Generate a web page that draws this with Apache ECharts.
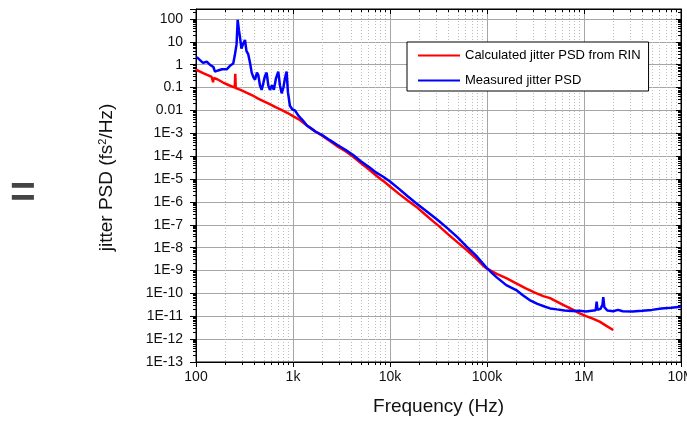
<!DOCTYPE html>
<html>
<head>
<meta charset="utf-8">
<script src="https://cdn.jsdelivr.net/npm/echarts@6/dist/echarts.min.js"></script>
<style>
  html, body { margin: 0; padding: 0; background: #fff; }
  #chart { width: 687px; height: 422px; }
</style>
</head>
<body>
<div id="chart"></div>
<script>
const seriesNames = ['Calculated jitter PSD from RIN', 'Measured jitter PSD']

// calculated from RIN (Hz, fs^2/Hz)
const redFreq = [
  100, 110, 120, 132, 145, 148, 150, 152, 166, 190,
  219, 251, 254, 257, 288, 331, 380, 437, 501, 575,
  661, 759, 871, 1000, 1175, 1413, 1700, 2000, 2400, 2900,
  3470, 4170, 5000, 6170, 7240, 8510, 10000, 12300, 15100, 18600,
  22900, 27500, 32400, 39800, 50100, 61700, 75900, 89100, 100000, 126000,
  158000, 200000, 251000, 316000, 380000, 447000, 525000, 631000, 759000, 891000,
  1050000, 1230000, 1450000, 1700000, 2000000
]
const redPsd = [
  0.60, 0.50, 0.42, 0.35, 0.29, 0.28, 0.17, 0.26, 0.23, 0.166,
  0.126, 0.10, 0.40, 0.095, 0.079, 0.060, 0.046, 0.033, 0.025, 0.019,
  0.0138, 0.0105, 0.0079, 0.0056, 0.0038, 0.0021, 0.0012, 7.9e-4, 4.6e-4, 2.6e-4,
  1.66e-4, 9.5e-5, 5.0e-5, 2.5e-5, 1.4e-5, 8.3e-6, 4.7e-6, 2.3e-6, 1.17e-6, 6.2e-7,
  2.9e-7, 1.48e-7, 8.3e-8, 3.8e-8, 1.66e-8, 7.9e-9, 3.6e-9, 1.8e-9, 1.2e-9, 7.1e-10,
  4.6e-10, 2.75e-10, 1.66e-10, 1.05e-10, 7.6e-11, 6.2e-11, 4.4e-11, 2.9e-11, 2.0e-11, 1.38e-11,
  1.02e-11, 7.9e-12, 5.8e-12, 3.8e-12, 2.5e-12
]

// measured
const blueFreq = [
  102, 110, 118, 129, 139, 151, 157, 169, 185, 207,
  224, 242, 251, 262, 269, 277, 284, 294, 305, 320,
  331, 346, 360, 375, 391, 406, 425, 439, 456, 475,
  495, 514, 535, 556, 578, 607, 635, 667, 705, 733,
  764, 796, 826, 859, 887, 929, 986, 1047, 1148, 1274,
  1390, 1549, 1700, 2000, 2400, 2900, 3470, 4170, 5000, 6170,
  7240, 8510, 10000, 12300, 15100, 18600, 22900, 27500, 32400, 39800,
  50100, 61700, 75900, 89100, 100000, 112000, 126000, 158000, 200000, 234000,
  275000, 331000, 398000, 447000, 525000, 631000, 759000, 891000, 1050000, 1200000,
  1320000, 1350000, 1380000, 1480000, 1550000, 1580000, 1620000, 1740000, 2000000, 2240000,
  2510000, 3160000, 3980000, 5000000, 6300000, 7900000, 10000000
]
const bluePsd = [
  2.14, 1.58, 1.2, 1.35, 1.0, 0.79, 0.5, 0.56, 0.63, 0.63,
  0.89, 1.12, 2.5, 7.9, 91, 32, 16, 5, 7.9, 12,
  4, 2.8, 1.26, 0.45, 0.28, 0.22, 0.45, 0.35, 0.126, 0.079,
  0.16, 0.32, 0.45, 0.126, 0.079, 0.126, 0.079, 0.25, 0.5, 0.126,
  0.056, 0.1, 0.25, 0.5, 0.063, 0.016, 0.011, 0.01, 0.0056, 0.0035,
  0.0022, 0.0016, 1.2e-3, 8.3e-4, 5.0e-4, 3.0e-4, 1.9e-4, 1.12e-4, 6.0e-5, 3.2e-5,
  1.9e-5, 1.26e-5, 7.8e-6, 3.8e-6, 1.8e-6, 8.7e-7, 4.4e-7, 2.4e-7, 1.38e-7, 6.6e-8,
  2.75e-8, 1.1e-8, 4.8e-9, 2.2e-9, 1.26e-9, 7.9e-10, 5.0e-10, 2.3e-10, 1.4e-10, 8.3e-11,
  5.1e-11, 3.5e-11, 2.6e-11, 2.2e-11, 2.0e-11, 1.8e-11, 1.7e-11, 1.74e-11, 1.62e-11, 1.74e-11,
  1.82e-11, 4.4e-11, 1.9e-11, 2.1e-11, 3.2e-11, 6.8e-11, 2.5e-11, 1.78e-11, 1.66e-11, 1.9e-11,
  1.66e-11, 1.62e-11, 1.74e-11, 1.9e-11, 2.2e-11, 2.35e-11, 2.6e-11
]

// tick labels, indexed by decade exponent
const xTickLabels = { 2: '100', 3: '1k', 4: '10k', 5: '100k', 6: '1M', 7: '10M' }
const yTickLabels = {
  2: '100', 1: '10', 0: '1', '-1': '0.1', '-2': '0.01', '-3': '1E-3', '-4': '1E-4',
  '-5': '1E-5', '-6': '1E-6', '-7': '1E-7', '-8': '1E-8', '-9': '1E-9', '-10': '1E-10',
  '-11': '1E-11', '-12': '1E-12', '-13': '1E-13'
}

const FONT = '"Liberation Sans", Arial, sans-serif'
const X_MIN = 100, X_MAX = 1e7
const Y_MIN = 1e-13, Y_MAX = 272

// only label whole decades
const decadeLabel = (map) => (v) => {
  const e = Math.log10(v)
  const r = Math.round(e)
  if (Math.abs(e - r) > 1e-6) return ''
  return map[r] !== undefined ? map[r] : ''
}

const chart = echarts.init(document.getElementById('chart'), null, { renderer: 'canvas' })

const axisLineStyle = { color: '#000', width: 1 }
const minorTickOut = { show: true, splitNumber: 9, length: 3, lineStyle: { color: '#000', width: 1 } }

const option = {
  animation: false,
  textStyle: { fontFamily: FONT },
  grid: {
    left: 196, right: 6, top: 9, bottom: 60,
    containLabel: false,
    outerBoundsMode: 'none',
    show: true,
    borderColor: '#000',
    borderWidth: 1,
    backgroundColor: 'transparent'
  },
  legend: {
    data: seriesNames,
    orient: 'vertical',
    left: 407,
    top: 42,
    padding: [6, 8, 3, 11],
    itemGap: 10,
    itemWidth: 42,
    itemHeight: 2,
    icon: 'rect',
    backgroundColor: '#fff',
    borderColor: '#000',
    borderWidth: 1,
    borderRadius: 0,
    textStyle: { fontSize: 13, color: '#000', fontFamily: FONT, lineHeight: 15 }
  },
  xAxis: [
    {
      type: 'log',
      logBase: 10,
      min: X_MIN,
      max: X_MAX,
      name: 'Frequency (Hz)',
      nameLocation: 'middle',
      nameGap: 35,
      nameTextStyle: { fontSize: 19, color: '#111', fontFamily: FONT },
      axisLine: { lineStyle: axisLineStyle },
      axisTick: { inside: false, length: 5, lineStyle: { color: '#000' } },
      minorTick: minorTickOut,
      axisLabel: { fontSize: 14, color: '#111', margin: 8, formatter: decadeLabel(xTickLabels) },
      splitLine: { show: true, lineStyle: { color: '#a6a6a6', width: 1 } },
      minorSplitLine: { show: true, lineStyle: { type: [1, 2], color: '#bdbdbd', width: 1 } }
    },
    {
      type: 'log',
      logBase: 10,
      min: X_MIN,
      max: X_MAX,
      position: 'top',
      axisLine: { show: true, lineStyle: axisLineStyle },
      axisTick: { show: true, inside: true, length: 5, lineStyle: { color: '#000' } },
      minorTick: Object.assign({}, minorTickOut, { inside: true }),
      axisLabel: { show: false },
      splitLine: { show: false }
    }
  ],
  yAxis: [
    {
      type: 'log',
      logBase: 10,
      min: Y_MIN,
      max: Y_MAX,
      interval: 1,
      name: '{a|jitter PSD (fs}{s|2}{a|/Hz)}',
      nameLocation: 'middle',
      nameGap: 80,
      nameTextStyle: {
        padding: [0, 0, 0, 16],
        rich: {
          a: { fontSize: 19, color: '#111', fontFamily: FONT },
          s: { fontSize: 11, color: '#111', fontFamily: FONT, verticalAlign: 'top', padding: [0, 0, 8, 0] }
        }
      },
      axisLine: { show: true, lineStyle: axisLineStyle },
      axisTick: { inside: false, length: 6, lineStyle: { color: '#000' } },
      minorTick: minorTickOut,
      axisLabel: { fontSize: 14, color: '#111', margin: 13, formatter: decadeLabel(yTickLabels) },
      splitLine: { show: true, lineStyle: { color: '#a6a6a6', width: 1 } }
    },
    {
      type: 'log',
      logBase: 10,
      min: Y_MIN,
      max: Y_MAX,
      interval: 1,
      position: 'right',
      axisLine: { show: true, lineStyle: axisLineStyle },
      axisTick: { show: true, inside: true, length: 5, lineStyle: { color: '#000' } },
      minorTick: Object.assign({}, minorTickOut, { inside: true }),
      axisLabel: { show: false },
      splitLine: { show: false }
    }
  ],
  graphic: [
    {
      type: 'text',
      left: 10,
      top: 173,
      style: { text: '=', font: 'bold 44px ' + FONT, fill: '#444' }
    }
  ],
  series: [
    {
      name: seriesNames[0],
      type: 'line',
      showSymbol: false,
      color: '#ff0000',
      lineStyle: { width: 2.5 },
      data: redFreq.map((f, i) => [f, redPsd[i]])
    },
    {
      name: seriesNames[1],
      type: 'line',
      showSymbol: false,
      color: '#0000ff',
      lineStyle: { width: 2.5 },
      data: blueFreq.map((f, i) => [f, bluePsd[i]])
    }
  ]
}

chart.setOption(option)
</script>
</body>
</html>
